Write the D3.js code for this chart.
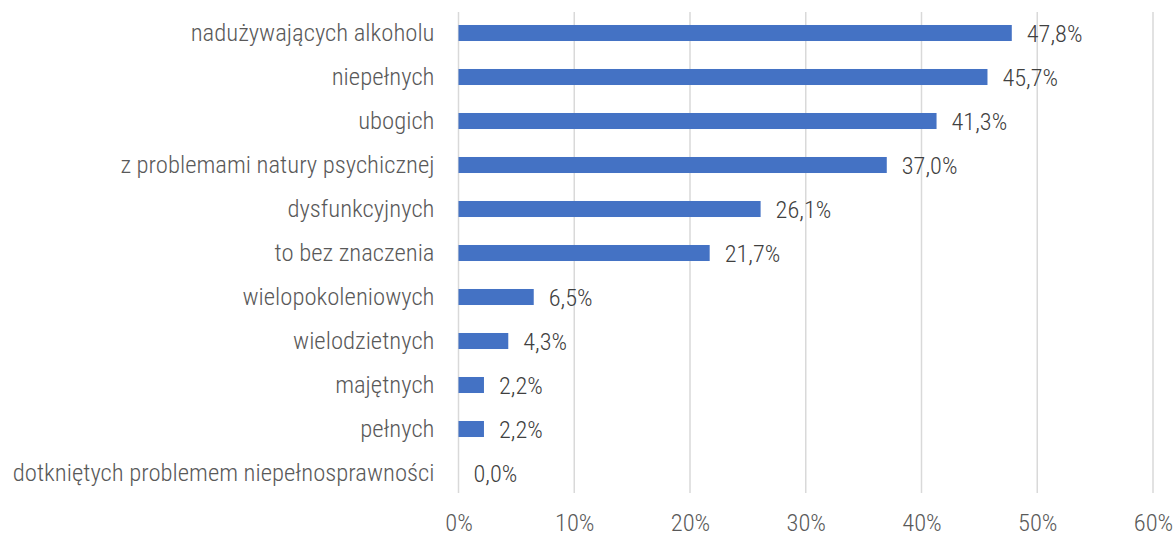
<!DOCTYPE html>
<html>
<head>
<meta charset="utf-8">
<script src="https://cdn.jsdelivr.net/npm/d3@7"></script>
<style>
    body { margin: 0; background: #fff; }
    text { font-family: 'Roboto Condensed', 'Liberation Sans Narrow', sans-serif; font-weight: 300; }
</style>
</head>
<body>
<div id="chart"></div>
<script>
    // Data

    var categories = [
        'nadużywających alkoholu',
        'niepełnych',
        'ubogich',
        'z problemami natury psychicznej',
        'dysfunkcyjnych',
        'to bez znaczenia',
        'wielopokoleniowych',
        'wielodzietnych',
        'majętnych',
        'pełnych',
        'dotkniętych problemem niepełnosprawności'
    ],
    values = [ 47.8, 45.7, 41.3, 37.0, 26.1, 21.7, 6.5, 4.3, 2.2, 2.2, 0.0 ],
    ticks = [ 0, 10, 20, 30, 40, 50, 60 ];

    //////////////////////////////////////////
    // Chart

    var width = 1175,
        height = 536,
        margin = { top: 11, right: 22, bottom: 41, left: 458.5 };

    var svg = d3.select( '#chart' )
        .append( 'svg' )
        .attr( 'width', width )
        .attr( 'height', height );

    var x = d3.scaleLinear()
        .domain( [ 0, 60 ] )
        .range( [ margin.left, width - margin.right ] );

    var y = d3.scaleBand()
        .domain( categories )
        .range( [ margin.top, height - margin.bottom ] )
        .paddingInner( 0.636 )
        .paddingOuter( 0.318 );

    // gridlines
    svg.append( 'g' )
        .selectAll( 'line' )
        .data( ticks )
        .join( 'line' )
        .attr( 'x1', d => x( d ) )
        .attr( 'x2', d => x( d ) )
        .attr( 'y1', 12 )
        .attr( 'y2', 493 )
        .attr( 'stroke', '#d9d9d9' )
        .attr( 'stroke-width', 1.5 );

    // x axis labels
    var xAxis = d3.axisBottom( x )
        .tickValues( ticks )
        .tickFormat( d => d + '%' )
        .tickSize( 0 )
        .tickPadding( 0 );

    svg.append( 'g' )
        .attr( 'transform', 'translate(0,531)' )
        .call( xAxis )
        .call( g => g.select( '.domain' ).remove() )
        .selectAll( 'text' )
        .attr( 'dy', 0 )
        .attr( 'y', 0 )
        .attr( 'font-size', 24.5 )
        .attr( 'font-family', null )
        .attr( 'fill', '#595959' );

    // category labels
    var yAxis = d3.axisLeft( y )
        .tickSize( 0 )
        .tickPadding( 24 );

    svg.append( 'g' )
        .attr( 'transform', 'translate(' + x( 0 ) + ',0)' )
        .call( yAxis )
        .call( g => g.select( '.domain' ).remove() )
        .selectAll( 'text' )
        .attr( 'font-size', 24.7 )
        .attr( 'font-family', null )
        .attr( 'fill', '#595959' );

    // bars
    svg.append( 'g' )
        .selectAll( 'rect' )
        .data( values )
        .join( 'rect' )
        .attr( 'x', x( 0 ) )
        .attr( 'y', ( d, i ) => y( categories[ i ] ) )
        .attr( 'width', d => x( d ) - x( 0 ) )
        .attr( 'height', y.bandwidth() )
        .attr( 'fill', '#4472c4' );

    // value labels
    svg.append( 'g' )
        .selectAll( 'text' )
        .data( values )
        .join( 'text' )
        .attr( 'x', d => x( d ) + 15 )
        .attr( 'y', ( d, i ) => y( categories[ i ] ) + y.bandwidth() / 2 )
        .attr( 'dy', '0.35em' )
        .attr( 'font-size', 24.3 )
        .attr( 'fill', '#404040' )
        .text( d => d.toFixed( 1 ).replace( '.', ',' ) + '%' );
</script>
</body>
</html>
